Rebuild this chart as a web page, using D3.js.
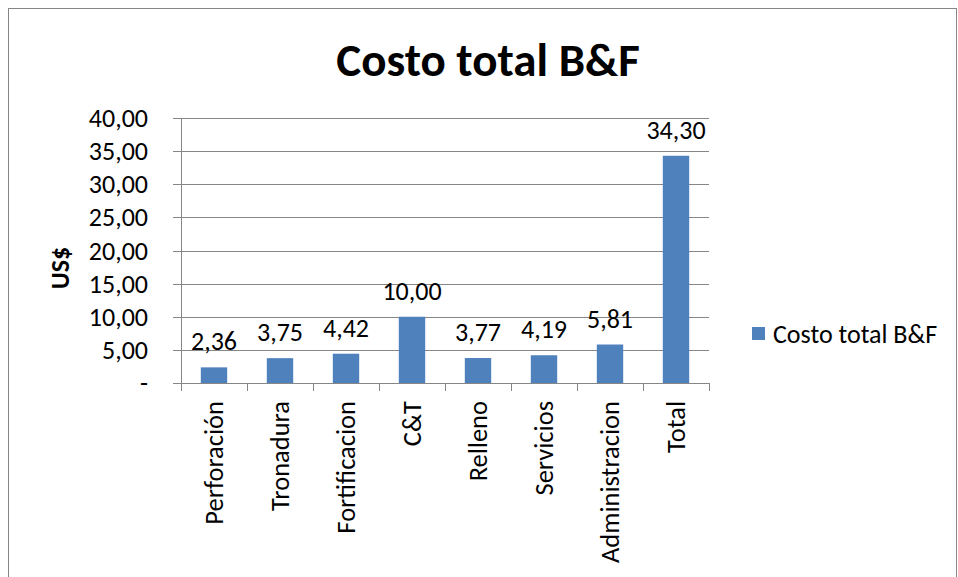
<!DOCTYPE html>
<html><head><meta charset="utf-8">
<script src="https://cdn.jsdelivr.net/npm/d3@7"></script>
<style>
body{margin:0;background:#fff;}
text{font-family:Carlito,Calibri,Lato,"Open Sans",sans-serif;fill:#000;}
</style></head>
<body><svg id="c" width="958" height="577"></svg>
<script>
const categories=["Perforación","Tronadura","Fortificacion","C&T","Relleno","Servicios","Administracion","Total"];
const values=[2.36,3.75,4.42,10.00,3.77,4.19,5.81,34.30];
const yTicks=[0,5,10,15,20,25,30,35,40];
const seriesName="Costo total B&F";
const titleText="Costo total B&F";
const yTitle="US$";

(function(){
const svg=d3.select("#c");
const fs="26px";
const fmt=v=>v===0?"-":d3.format(".2f")(v).replace(".",",");
svg.append("rect").attr("x",8.5).attr("y",8.5).attr("width",948).attr("height",580).attr("fill","#fff").attr("stroke","#868686").attr("stroke-width",1);

const pL=181,pR=709,pT=118,pB=383;
const x=d3.scaleBand().domain(categories).range([pL,pR]).paddingInner(0.6).paddingOuter(0.3);
const y=d3.scaleLinear().domain([0,40]).range([pB,pT]);

svg.append("g").selectAll("line").data(yTicks).join("line")
 .attr("x1",pL-8).attr("x2",pR).attr("y1",d=>Math.round(y(d))+0.5).attr("y2",d=>Math.round(y(d))+0.5)
 .attr("stroke","#868686").attr("stroke-width",1);
svg.append("line").attr("x1",pL+0.5).attr("x2",pL+0.5).attr("y1",pT).attr("y2",pB+8).attr("stroke","#868686");
const bandStep=(pR-pL)/categories.length;
svg.append("g").selectAll("line").data(d3.range(categories.length+1)).join("line")
 .attr("x1",i=>Math.round(pL+i*bandStep)+0.5).attr("x2",i=>Math.round(pL+i*bandStep)+0.5)
 .attr("y1",pB).attr("y2",pB+8).attr("stroke","#868686");
svg.append("g").selectAll("text").data(yTicks).join("text")
 .attr("x",148).attr("y",d=>y(d)).attr("dy","0.35em").attr("text-anchor","end")
 .style("font-size",fs).text(fmt);
svg.append("g").selectAll("rect").data(values).join("rect")
 .attr("x",(d,i)=>x(categories[i])).attr("width",x.bandwidth())
 .attr("y",d=>y(d)).attr("height",d=>y(0)-y(d)).attr("fill","#4f81bd");
svg.append("g").selectAll("text").data(values).join("text")
 .attr("x",(d,i)=>x(categories[i])+x.bandwidth()/2).attr("y",d=>y(d)-17)
 .attr("text-anchor","middle").style("font-size",fs).text(fmt);
svg.append("g").selectAll("text").data(categories).join("text")
 .attr("transform",(d)=>`translate(${x(d)+x.bandwidth()/2},401) rotate(-90)`)
 .attr("text-anchor","end").attr("dy","0.35em").style("font-size","26.5px").text(d=>d);
svg.append("text").attr("x",488).attr("y",76).attr("text-anchor","middle")
 .style("font-size","47px").style("font-weight","bold").text(titleText);
svg.append("text").attr("transform","translate(60,268) rotate(-90)").attr("text-anchor","middle").attr("dy","0.35em")
 .style("font-size",fs).style("font-weight","bold").text(yTitle);
svg.append("rect").attr("x",752).attr("y",327).attr("width",13).attr("height",13).attr("fill","#4f81bd");
svg.append("text").attr("x",773).attr("y",334).attr("dy","0.35em").style("font-size",fs).text(seriesName);
})();
</script></body></html>
